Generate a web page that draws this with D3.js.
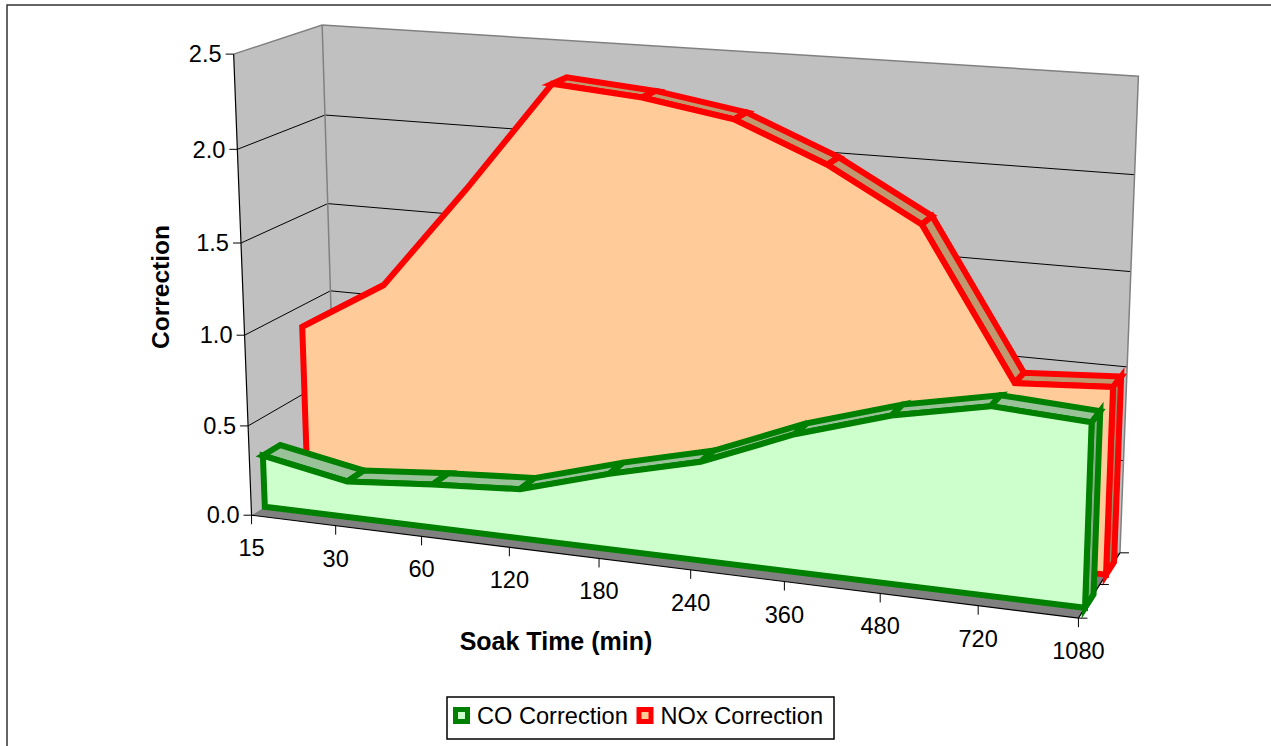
<!DOCTYPE html>
<html lang="en">
<head>
<meta charset="UTF-8">
<title>Soak Time Correction</title>
<script src="https://cdn.jsdelivr.net/npm/d3@7"></script>
<style>
    body { margin: 0; background: #fff; }
    text { font-family: "Liberation Sans", Arial, sans-serif; fill: #000; }
</style>
</head>
<body>
<div id="chart"></div>
<script>
    // values
    const soakTimes = ["15", "30", "60", "120", "180", "240", "360", "480", "720", "1080"];
    const coCorrection = [0.29, 0.20, 0.24, 0.27, 0.41, 0.53, 0.73, 0.88, 0.98, 0.95];
    const noxCorrection = [0.88, 1.16, 1.73, 2.33, 2.29, 2.21, 2.01, 1.74, 0.96, 0.99];
    const valueTicks = [0, 0.5, 1, 1.5, 2, 2.5];
    const seriesNames = ["CO Correction", "NOx Correction"];

    const width = 1271, height = 746;

    let svg = d3.select('#chart')
        .append('svg')
        .attr('width', width)
        .attr('height', height);

    // category -> u, value -> v, series -> depth band (all 0..1)
    const xScale = d3.scalePoint().domain(soakTimes).range([0, 1]);
    const yScale = d3.scaleLinear().domain([0, 2.5]).range([0, 1]);
    const zScale = d3.scaleBand().domain(seriesNames).range([0, 1]).paddingInner(0.6).paddingOuter(0.3);

    // where the corners of the 3d box sit on the page (u, v, w, px, py)
    // used to fit the perspective camera
    const boxCalib = [
        [0, 0, 0, 252, 515.5], [0, 0.2, 0, 248.3, 426], [0, 0.4, 0, 245, 335],
        [0, 0.6, 0, 240, 241.7], [0, 0.8, 0, 236.7, 150], [0, 1, 0, 234.3, 53.5],
        [0, 1, 1, 322.5, 25.5], [0, 0.8, 1, 325, 116], [0, 0.6, 1, 327.7, 202.7], [0, 0.4, 1, 329.5, 290.7],
        [1, 1, 1, 1139, 76.7], [1, 0.8, 1, 1134.3, 175], [1, 0.6, 1, 1131, 271], [1, 0.4, 1, 1126.7, 366.7],
        [1, 0, 1, 1120, 553], [1, 0, 0.5, 1101, 583.3], [1, 0, 0, 1078, 618.5],
        [1 / 9, 0, 0, 336.7, 526], [2 / 9, 0, 0, 421.7, 536.6], [3 / 9, 0, 0, 509.3, 547.5],
        [4 / 9, 0, 0, 598.3, 558.6], [7 / 9, 0, 0, 880, 593.7], [8 / 9, 0, 0, 977.7, 605.9]
    ];

    //least squares fit of a 3x4 projection matrix
    function fitCamera(pts) {
        const n = 11;
        const M = Array.from({ length: n }, () => new Array(n + 1).fill(0));
        pts.forEach(([u, v, w, x, y]) => {
            const rows = [
                [[u, v, w, 1, 0, 0, 0, 0, -x * u, -x * v, -x * w], x],
                [[0, 0, 0, 0, u, v, w, 1, -y * u, -y * v, -y * w], y]
            ];
            rows.forEach(([r, b]) => {
                for (let i = 0; i < n; i++) {
                    for (let j = 0; j < n; j++) M[i][j] += r[i] * r[j];
                    M[i][n] += r[i] * b;
                }
            });
        });
        for (let c = 0; c < n; c++) {
            let p = c;
            for (let r = c + 1; r < n; r++) if (Math.abs(M[r][c]) > Math.abs(M[p][c])) p = r;
            [M[c], M[p]] = [M[p], M[c]];
            for (let r = 0; r < n; r++) {
                if (r === c) continue;
                const f = M[r][c] / M[c][c];
                for (let k = c; k <= n; k++) M[r][k] -= f * M[c][k];
            }
        }
        return M.map((row, i) => row[n] / row[i]);
    }

    const cam = fitCamera(boxCalib);

    function P(u, v, w) {
        const d = cam[8] * u + cam[9] * v + cam[10] * w + 1;
        return [
            (cam[0] * u + cam[1] * v + cam[2] * w + cam[3]) / d,
            (cam[4] * u + cam[5] * v + cam[6] * w + cam[7]) / d
        ];
    }

    const poly = pts => d3.line()(pts) + 'Z';

    function area(pts) {
        let s = 0;
        for (let i = 0; i < pts.length; i++) {
            const a = pts[i], b = pts[(i + 1) % pts.length];
            s += a[0] * b[1] - b[0] * a[1];
        }
        return s / 2;
    }

    //chart border
    svg.append('rect').attr('x', 7).attr('y', 5).attr('width', 1300).attr('height', 800)
        .attr('fill', 'none').attr('stroke', '#333').attr('stroke-width', 1.5);

    //walls and floor
    svg.append('path').attr('d', poly([P(0, 0, 0), P(0, 1, 0), P(0, 1, 1), P(0, 0, 1)]))
        .attr('fill', '#C0C0C0');
    svg.append('path').attr('d', poly([P(0, 0, 1), P(0, 1, 1), P(1, 1, 1), P(1, 0, 1)]))
        .attr('fill', '#C0C0C0');
    svg.append('path').attr('d', poly([P(0, 0, 0), P(1, 0, 0), P(1, 0, 1), P(0, 0, 1)]))
        .attr('fill', '#808080');

    //gridlines
    valueTicks.filter(t => t > 0 && t < 2.5).forEach(t => {
        const v = yScale(t);
        svg.append('path').attr('d', d3.line()([P(0, v, 0), P(0, v, 1), P(1, v, 1)]))
            .attr('fill', 'none').attr('stroke', '#000').attr('stroke-width', 1);
    });

    //wall edges
    svg.append('path').attr('d', d3.line()([P(0, 1, 0), P(0, 1, 1), P(1, 1, 1), P(1, 0, 1)]))
        .attr('fill', 'none').attr('stroke', '#808080').attr('stroke-width', 1.5);
    svg.append('path').attr('d', d3.line()([P(0, 1, 1), P(0, 0, 1)]))
        .attr('fill', 'none').attr('stroke', '#808080').attr('stroke-width', 1.5);

    //axis lines
    svg.append('path').attr('d', d3.line()([P(0, 1, 0), P(0, 0, 0), P(1, 0, 0), P(1, 0, 1)]))
        .attr('fill', 'none').attr('stroke', '#000').attr('stroke-width', 1.2);

    //series, back one first
    const series = [
        { name: "NOx Correction", values: noxCorrection, line: "#FF0000", fill: "#FFCC99", top: "#C19970", side: "#A8855F" },
        { name: "CO Correction", values: coCorrection, line: "#008000", fill: "#CCFFCC", top: "#99C299", side: "#88B088" }
    ];

    series.forEach(s => {
        const w0 = zScale(s.name), w1 = w0 + zScale.bandwidth();
        const front = soakTimes.map((c, i) => P(xScale(c), yScale(s.values[i]), w0));
        const back = soakTimes.map((c, i) => P(xScale(c), yScale(s.values[i]), w1));
        const g = svg.append('g')
            .attr('stroke', s.line).attr('stroke-width', 6).attr('stroke-linejoin', 'miter');

        for (let i = 0; i < front.length - 1; i++) {
            const quad = [front[i], front[i + 1], back[i + 1], back[i]];
            if (area(quad) < 0) g.append('path').attr('d', poly(quad)).attr('fill', s.top);
        }
        const last = soakTimes.length - 1;
        g.append('path').attr('d', poly([P(1, 0, w0), front[last], back[last], P(1, 0, w1)]))
            .attr('fill', s.side);
        g.append('path').attr('d', poly(front.concat([P(1, 0, w0), P(0, 0, w0)])))
            .attr('fill', s.fill);
    });

    //value axis ticks and labels
    valueTicks.forEach(t => {
        const p = P(0, yScale(t), 0);
        svg.append('line').attr('x1', p[0] - 8).attr('x2', p[0]).attr('y1', p[1]).attr('y2', p[1])
            .attr('stroke', '#000');
        svg.append('text').attr('x', p[0] - 12).attr('y', p[1]).attr('dy', '0.35em')
            .attr('text-anchor', 'end').attr('font-size', 23.6).text(t.toFixed(1));
    });

    //category ticks and labels
    soakTimes.forEach(c => {
        const p = P(xScale(c), 0, 0);
        svg.append('line').attr('x1', p[0]).attr('x2', p[0]).attr('y1', p[1]).attr('y2', p[1] + 9)
            .attr('stroke', '#000');
        svg.append('text').attr('x', p[0]).attr('y', p[1] + 41)
            .attr('text-anchor', 'middle').attr('font-size', 23.6).text(c);
    });

    //depth axis ticks
    [0, 0.5, 1].forEach(w => {
        const p = P(1, 0, w);
        svg.append('line').attr('x1', p[0]).attr('x2', p[0] + 9).attr('y1', p[1]).attr('y2', p[1])
            .attr('stroke', '#000');
    });

    //axis titles
    svg.append('text').attr('x', 556).attr('y', 650).attr('text-anchor', 'middle')
        .attr('font-size', 25).attr('font-weight', 'bold').text('Soak Time (min)');
    svg.append('text').attr('transform', 'translate(169,287) rotate(-90)').attr('text-anchor', 'middle')
        .attr('font-size', 24.5).attr('font-weight', 'bold').text('Correction');

    //legend
    const legend = svg.append('g');
    legend.append('rect').attr('x', 447).attr('y', 697).attr('width', 387).attr('height', 42)
        .attr('fill', '#fff').attr('stroke', '#000').attr('stroke-width', 1.5);
    const legendItems = [
        { label: seriesNames[0], x: 455.5, line: "#008000", fill: "#CCFFCC" },
        { label: seriesNames[1], x: 639, line: "#FF0000", fill: "#FFCC99" }
    ];
    legendItems.forEach(d => {
        legend.append('rect').attr('x', d.x).attr('y', 709.5).attr('width', 12).attr('height', 12)
            .attr('fill', d.fill).attr('stroke', d.line).attr('stroke-width', 5);
        legend.append('text').attr('x', d.x + 21.5).attr('y', 723.5).attr('font-size', 23.6).text(d.label);
    });
</script>
</body>
</html>
